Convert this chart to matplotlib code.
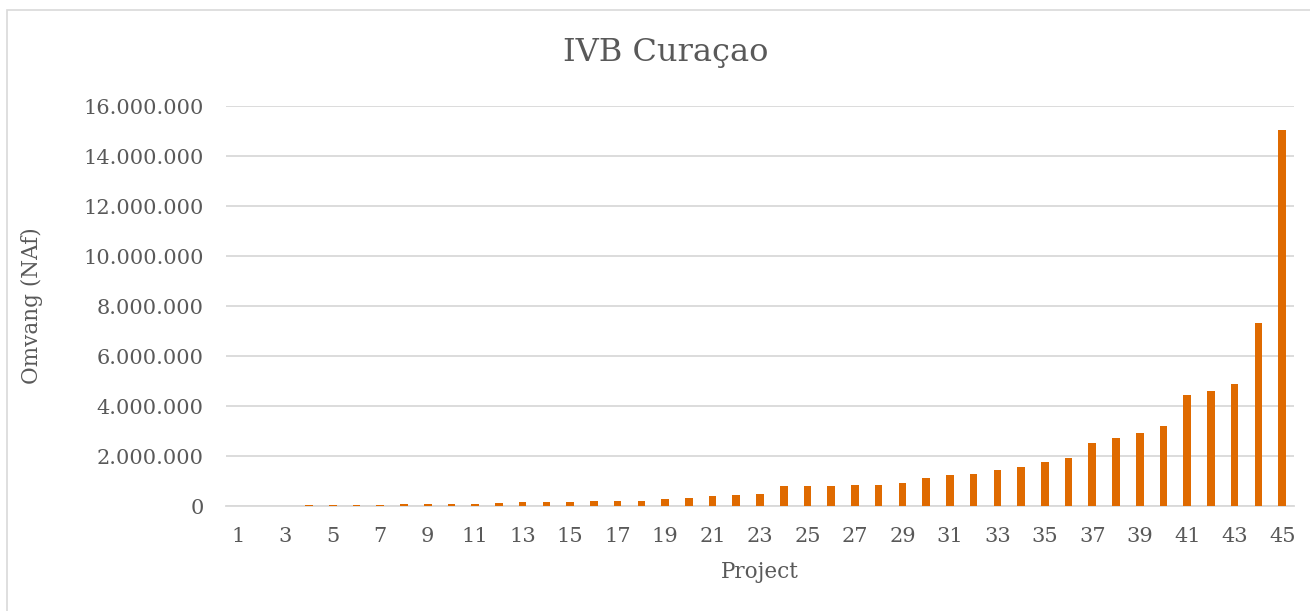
import numpy as np
import matplotlib.pyplot as plt
from matplotlib.patches import Rectangle
from matplotlib.ticker import FuncFormatter

# Data, values in NAf
projects = list(range(1, 46))
omvang = [5000, 10000, 15000, 40000, 45000, 55000, 60000, 65000, 75000, 80000,
          95000, 120000, 150000, 150000, 160000, 190000, 200000, 210000, 290000, 310000,
          410000, 430000, 490000, 790000, 800000, 795000, 830000, 840000, 940000, 1110000,
          1230000, 1270000, 1460000, 1570000, 1780000, 1920000, 2520000, 2740000, 2940000, 3200000,
          4440000, 4590000, 4900000, 7310000, 15060000]
y_ticks = [0, 2e6, 4e6, 6e6, 8e6, 10e6, 12e6, 14e6, 16e6]

bar_color = '#DF6A00'
text_color = '#595959'
grid_color = '#D9D9D9'

plt.rcParams['font.family'] = ['DejaVu Serif']

W, H = 1310, 611
fig = plt.figure(figsize=(W/100, H/100), dpi=100)
ax = fig.add_axes([226/W, 1-506/H, (1294-226)/W, 400/H])

# outer chart border
fig.patches.append(Rectangle((7/W, -0.01), 1.1, 1-10/H+0.01, transform=fig.transFigure,
                             fill=False, edgecolor=grid_color, linewidth=1.2))

ax.bar(projects, omvang, width=0.32, color=bar_color, zorder=3)

ax.set_xlim(0.5, 45.5)
ax.set_ylim(0, 16e6)
ax.set_yticks(y_ticks)
ax.yaxis.set_major_formatter(FuncFormatter(lambda v, p: f'{int(v):,}'.replace(',', '.')))
ax.set_xticks(projects[::2])

ax.grid(axis='y', color=grid_color, linewidth=1.3, zorder=0)
for s in ['top', 'right', 'left']:
    ax.spines[s].set_visible(False)
ax.spines['bottom'].set_color(grid_color)
ax.spines['bottom'].set_linewidth(1.3)
ax.tick_params(axis='both', length=0, colors=text_color, labelsize=15)
ax.tick_params(axis='y', pad=16)
ax.tick_params(axis='x', pad=15)

# title and axis labels placed on the figure
fig.text(666/W, 1-53/H, 'IVB Curaçao', fontsize=23, color=text_color, ha='center', va='center')
fig.text(760/W, 1-572/H, 'Project', fontsize=15.5, color=text_color, ha='center', va='center')
fig.text(32/W, 1-306/H, 'Omvang (NAf)', fontsize=15.5, color=text_color, ha='center', va='center',
         rotation=90)

fig.savefig('out.png', dpi=100)
